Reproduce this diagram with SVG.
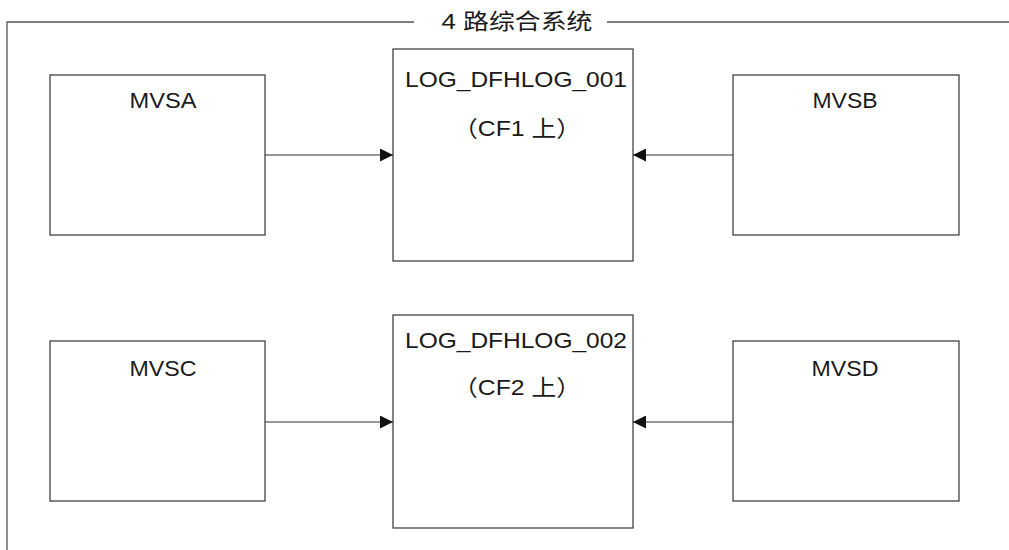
<svg xmlns="http://www.w3.org/2000/svg" width="1009" height="550" viewBox="0 0 1009 550">
<style>
.box{fill:#fff;stroke:#444;stroke-width:1.3}
.t{font-family:"Liberation Sans","Noto Sans CJK SC",sans-serif;font-size:22px;fill:#1a1a1a;text-anchor:middle}
.c{stroke:#333;stroke-width:1.2;fill:none}
.f{stroke:#555;stroke-width:1.3;fill:none}
</style>
<defs>
<marker id="ah" viewBox="0 0 13 13" refX="13" refY="6.5" markerWidth="13" markerHeight="13" markerUnits="userSpaceOnUse" orient="auto">
<path d="M0,0 L13,6.5 L0,13 Z" fill="#111"/>
</marker>
</defs>
<g id="frame">
<path class="f" d="M414,22 H7 V550"/>
<path class="f" d="M607,22 H1009"/>
<text class="t" x="517" y="29" font-size="21" textLength="151" lengthAdjust="spacingAndGlyphs">4 路综合系统</text>
</g>
<g id="mvsa"><rect class="box" x="50" y="75" width="215" height="160"/><text class="t" x="163" y="108" textLength="67" lengthAdjust="spacingAndGlyphs">MVSA</text></g>
<g id="log1"><rect class="box" x="393" y="49" width="240" height="212"/><text class="t" x="516" y="87" textLength="222" lengthAdjust="spacingAndGlyphs">LOG_DFHLOG_001</text><text class="t" x="517" y="136" textLength="128" lengthAdjust="spacingAndGlyphs">（CF1  上）</text></g>
<g id="mvsb"><rect class="box" x="733" y="75" width="226" height="160"/><text class="t" x="845" y="108" textLength="65" lengthAdjust="spacingAndGlyphs">MVSB</text></g>
<g id="mvsc"><rect class="box" x="50" y="341" width="215" height="160"/><text class="t" x="163" y="376" textLength="67" lengthAdjust="spacingAndGlyphs">MVSC</text></g>
<g id="log2"><rect class="box" x="393" y="315" width="240" height="213"/><text class="t" x="516" y="348" textLength="222" lengthAdjust="spacingAndGlyphs">LOG_DFHLOG_002</text><text class="t" x="517" y="395" textLength="128" lengthAdjust="spacingAndGlyphs">（CF2  上）</text></g>
<g id="mvsd"><rect class="box" x="733" y="341" width="226" height="160"/><text class="t" x="845" y="376" textLength="67" lengthAdjust="spacingAndGlyphs">MVSD</text></g>
<g id="connectors">
<line class="c" x1="265" y1="155" x2="393" y2="155" marker-end="url(#ah)"/>
<line class="c" x1="733" y1="155" x2="633" y2="155" marker-end="url(#ah)"/>
<line class="c" x1="265" y1="422" x2="393" y2="422" marker-end="url(#ah)"/>
<line class="c" x1="733" y1="422" x2="633" y2="422" marker-end="url(#ah)"/>
</g>
</svg>
